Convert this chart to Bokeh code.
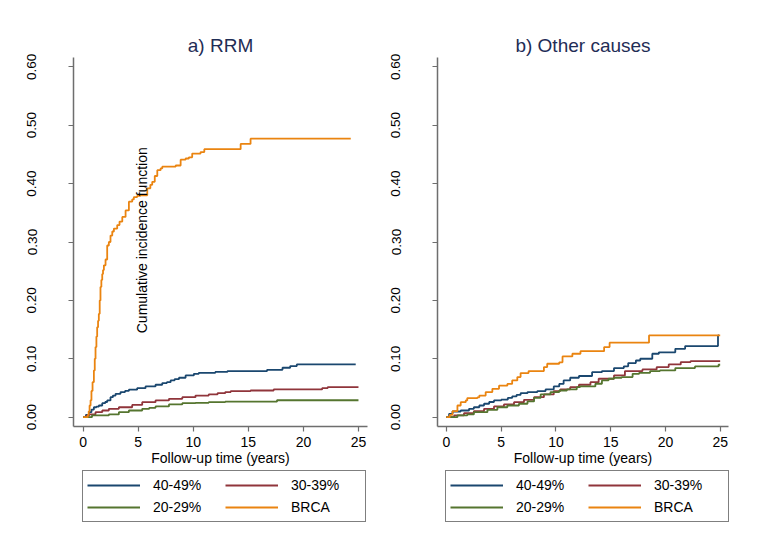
import math
from bokeh.plotting import figure
from bokeh.layouts import row, column
from bokeh.models import Legend, LegendItem, Label, FixedTicker, NumeralTickFormatter, Range1d
from bokeh.embed import file_html
from bokeh.resources import INLINE

# ---------------- data ----------------
groups = ["40-49%", "30-39%", "20-29%", "BRCA"]
colors = ["#1a476f", "#90353b", "#55752f", "#ea8410"]

x_ticks = [0, 5, 10, 15, 20, 25]
y_ticks = [0.0, 0.1, 0.2, 0.3, 0.4, 0.5, 0.6]

# a) RRM
rrm_4049_t = [0, 0.25, 0.52, 0.75, 0.97, 1.2, 1.42, 1.73, 2.0, 2.18, 2.48, 2.7, 2.94, 3.39, 3.8, 4.15, 4.9,
              5.66, 6.57, 7.18, 7.6, 7.94, 8.3, 8.7, 9.3, 10.05, 10.5, 12.0, 13.1, 16.7, 18.1, 18.8, 19.4, 24.75]
rrm_4049_v = [0, 0.004, 0.0086, 0.013, 0.017, 0.018, 0.02, 0.024, 0.026, 0.0286, 0.0343, 0.037, 0.04, 0.043,
              0.045, 0.047, 0.0497, 0.0526, 0.0555, 0.0583, 0.06, 0.063, 0.065, 0.0675, 0.0715, 0.0743, 0.076,
              0.0775, 0.079, 0.081, 0.0846, 0.0875, 0.0903, 0.0903]

rrm_3039_t = [0, 0.25, 0.52, 1.12, 1.73, 2.33, 3.24, 4.45, 5.36, 6.57, 7.79, 9.0, 10.2, 11.4, 12.2, 12.9,
              13.4, 15.2, 17.3, 21.7, 22.2, 25.0]
rrm_3039_v = [0, 0.002, 0.0046, 0.0086, 0.0114, 0.0143, 0.017, 0.021, 0.0257, 0.0286, 0.0314, 0.0343, 0.037,
              0.039, 0.041, 0.043, 0.0446, 0.0457, 0.0475, 0.0497, 0.0514, 0.0514]

rrm_2029_t = [0, 0.8, 2.33, 3.24, 4.15, 5.36, 6.0, 6.57, 7.79, 9.0, 10.2, 11.4, 12.9, 17.6, 25.0]
rrm_2029_v = [0, 0.003, 0.0046, 0.0086, 0.0114, 0.0143, 0.016, 0.0183, 0.0218, 0.024, 0.0246, 0.0257,
              0.0265, 0.029, 0.029]

rrm_brca_t = [0, 0.42, 0.5, 0.58, 0.67, 0.75, 0.85, 0.97, 1.05, 1.12, 1.2, 1.27, 1.35, 1.42, 1.5, 1.57, 1.65,
              1.73, 1.8, 1.88, 2.03, 2.18, 2.33, 2.48, 2.64, 2.79, 3.09, 3.3, 3.55, 3.85, 4.15, 4.45, 4.6, 4.9,
              5.2, 5.82, 6.1, 6.27, 6.5, 6.73, 7.03, 7.18, 8.4, 8.85, 9.3, 9.6, 9.9, 10.66, 11.0, 14.3, 15.2,
              24.3]
rrm_brca_v = [0, 0.004, 0.01, 0.02, 0.029, 0.045, 0.06, 0.08, 0.1, 0.12, 0.138, 0.154, 0.165, 0.177, 0.2,
              0.223, 0.235, 0.245, 0.252, 0.26, 0.27, 0.294, 0.30, 0.311, 0.318, 0.323, 0.329, 0.335, 0.343,
              0.354, 0.369, 0.373, 0.377, 0.379, 0.38, 0.392, 0.398, 0.403, 0.413, 0.423, 0.426, 0.429, 0.431,
              0.441, 0.443, 0.445, 0.4515, 0.454, 0.459, 0.468, 0.477, 0.477]

# b) Other causes
oth_4049_t = [0, 0.24, 0.55, 1.3, 2.06, 2.5, 3.0, 3.43, 3.9, 4.34, 5.0, 5.6, 6.0, 6.4, 6.77, 7.4, 8.3, 9.05,
              9.8, 10.3, 10.7, 11.3, 12.1, 13.3, 14.2, 15.3, 16.2, 16.6, 17.3, 17.7, 18.8, 19.4, 20.9, 21.8,
              24.8, 24.9]
oth_4049_v = [0, 0.0057, 0.0097, 0.0114, 0.0143, 0.017, 0.02, 0.023, 0.026, 0.0286, 0.030, 0.033, 0.0355,
              0.038, 0.041, 0.043, 0.0446, 0.0475, 0.0526, 0.057, 0.063, 0.0675, 0.0705, 0.077, 0.079, 0.084,
              0.087, 0.0926, 0.097, 0.1, 0.1086, 0.111, 0.117, 0.1217, 0.14, 0.14]

oth_3039_t = [0, 0.7, 1.6, 2.5, 3.43, 4.34, 5.25, 6.17, 7.08, 8.0, 8.9, 9.8, 10.4, 11.3, 12.1, 13.15, 13.9,
              15.3, 16.3, 17.9, 19.2, 20.3, 21.4, 22.3, 25.0]
oth_3039_v = [0, 0.003, 0.0069, 0.0103, 0.0143, 0.0183, 0.0218, 0.0257, 0.0297, 0.0343, 0.039, 0.0446,
              0.0475, 0.0514, 0.0555, 0.06, 0.0658, 0.0715, 0.0789, 0.0818, 0.0858, 0.0903, 0.0943, 0.096,
              0.096]

oth_2029_t = [0, 1.0, 1.9, 2.5, 3.74, 4.65, 5.56, 6.62, 7.4, 8.0, 8.6, 9.5, 10.3, 11.0, 11.9, 12.2, 13.6,
              14.2, 14.8, 15.3, 16.0, 17.0, 17.6, 18.6, 19.5, 20.9, 22.7, 24.85, 25.0]
oth_2029_v = [0, 0.003, 0.0046, 0.0086, 0.0126, 0.017, 0.02, 0.023, 0.027, 0.033, 0.039, 0.043, 0.0457,
              0.0475, 0.0514, 0.0526, 0.0572, 0.0629, 0.0658, 0.0675, 0.0686, 0.0743, 0.076, 0.0789, 0.08,
              0.084, 0.0869, 0.0898, 0.0898]

oth_brca_t = [0, 0.3, 0.55, 1.0, 1.3, 1.76, 1.9, 2.83, 3.0, 3.58, 4.19, 4.8, 5.56, 6.0, 6.47, 6.77, 7.5, 8.9,
              9.2, 10.3, 10.6, 11.5, 12.24, 14.4, 14.9, 18.5, 25.0]
oth_brca_v = [0, 0.004, 0.0103, 0.02, 0.0257, 0.0286, 0.0326, 0.034, 0.037, 0.043, 0.0486, 0.054, 0.057,
              0.063, 0.0686, 0.0755, 0.079, 0.0857, 0.0915, 0.094, 0.104, 0.1086, 0.113, 0.12, 0.1275, 0.14,
              0.14]

rrm_series = [(rrm_4049_t, rrm_4049_v), (rrm_3039_t, rrm_3039_v), (rrm_2029_t, rrm_2029_v), (rrm_brca_t, rrm_brca_v)]
oth_series = [(oth_4049_t, oth_4049_v), (oth_3039_t, oth_3039_v), (oth_2029_t, oth_2029_v), (oth_brca_t, oth_brca_v)]

FONT = "Liberation Sans"
AXIS_COLOR = "#6e6e6e"


def make_panel(title, series, width, border_left, border_right, x_range, ylabel=None):
    p = figure(width=width, height=470, x_range=Range1d(*x_range), y_range=Range1d(-0.016, 0.616),
               output_backend="svg", toolbar_location=None,
               min_border_left=border_left, min_border_right=border_right,
               min_border_top=57, min_border_bottom=44)
    p.outline_line_color = None
    p.grid.visible = False
    p.background_fill_color = "white"
    p.border_fill_color = "white"

    p.title.text = title
    p.title.align = "center"
    p.title.text_font = FONT
    p.title.text_font_size = "19px"
    p.title.text_font_style = "normal"
    p.title.text_color = "#1f2d56"
    p.title.standoff = 4

    for (t, v), c in zip(series, colors):
        p.step(t, v, mode="after", line_color=c, line_width=1.8)

    xa = p.xaxis[0]
    xa.ticker = FixedTicker(ticks=x_ticks)
    xa.axis_label = "Follow-up time (years)"
    xa.axis_label_text_font = FONT
    xa.axis_label_text_font_size = "14px"
    xa.axis_label_text_font_style = "normal"
    xa.axis_label_standoff = 0
    xa.major_label_text_font = FONT
    xa.major_label_text_font_size = "14px"
    xa.major_label_standoff = 5

    ya = p.yaxis[0]
    ya.ticker = FixedTicker(ticks=y_ticks)
    ya.formatter = NumeralTickFormatter(format="0.00")
    ya.major_label_orientation = "vertical"
    ya.major_label_text_font = FONT
    ya.major_label_text_font_size = "13.5px"
    ya.major_label_standoff = 32

    for ax in (xa, ya):
        ax.axis_line_color = AXIS_COLOR
        ax.axis_line_width = 1.5
        ax.major_tick_line_color = AXIS_COLOR
        ax.major_tick_line_width = 1.2
        ax.major_tick_out = 5
        ax.major_tick_in = 0
        ax.minor_tick_line_color = None
        ax.major_label_text_color = "black"
        ax.axis_label_text_color = "black"

    if ylabel:
        p.add_layout(Label(x=5.3, y=0.303, text=ylabel, angle=math.pi / 2, text_align="center",
                           text_baseline="middle", text_font=FONT, text_font_size="14px",
                           text_color="black"))
    return p


def make_legend(width, legend_x, series):
    # the series are drawn far outside this strip's y range: only their legend samples show
    lf = figure(width=width, height=60, x_range=Range1d(0, 25), y_range=Range1d(5, 6),
                x_axis_type=None, y_axis_type=None, output_backend="svg", toolbar_location=None,
                min_border=0)
    lf.outline_line_color = None
    lf.grid.visible = False
    renderers = [lf.line(t, v, line_color=c, line_width=1.8) for (t, v), c in zip(series, colors)]
    items = [LegendItem(label=g, renderers=[r]) for g, r in zip(groups, renderers)]
    legend = Legend(items=items, location=(legend_x, 8), orientation="horizontal", ncols=2,
                    glyph_width=53, glyph_height=20, label_standoff=13, label_width=70, label_height=20,
                    spacing=2, padding=4, margin=0,
                    border_line_color="black", border_line_width=1,
                    label_text_font=FONT, label_text_font_size="14px", label_text_color="black",
                    background_fill_color="white")
    lf.add_layout(legend, "center")
    return lf


p1 = make_panel("a) RRM", rrm_series, 381, 73, 14, (-0.88, 25.82), "Cumulative incidence function")
p2 = make_panel("b) Other causes", oth_series, 380, 56, 33, (-0.82, 25.76))
l1 = make_legend(381, 82, rrm_series)
l2 = make_legend(380, 64, oth_series)

layout = column(row(p1, p2), row(l1, l2))
open("out.html", "w").write(file_html(layout, INLINE))
